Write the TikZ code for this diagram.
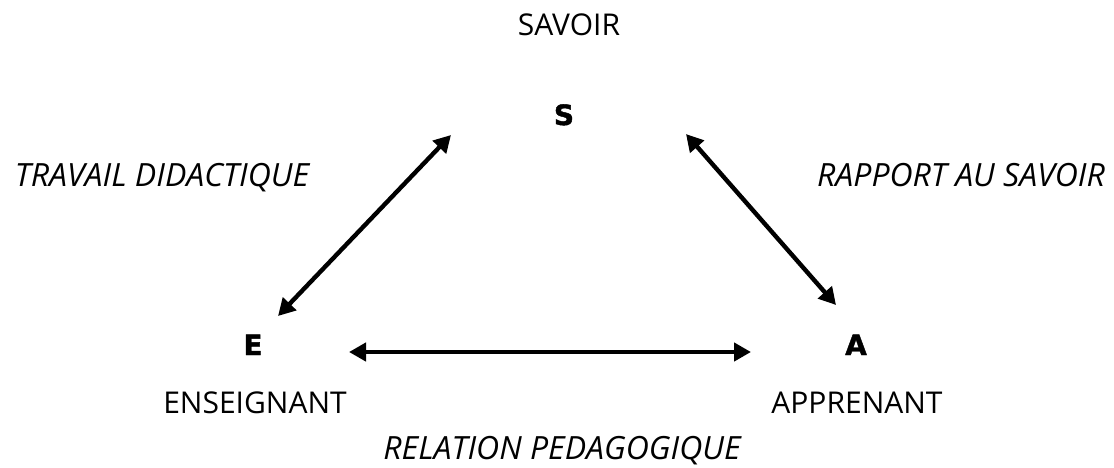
\documentclass[tikz,border=0pt]{standalone}
\usepackage{fontspec}
\setmainfont{Open Sans}
\newfontfamily\polefont[BoldFeatures={FakeBold=1.5}]{DejaVu Sans}
\usetikzlibrary{arrows.meta}

\begin{document}
\begin{tikzpicture}[x=0.5pt,y=-0.5pt,
  pole/.style={anchor=base,font=\polefont\bfseries\fontsize{14}{16}\selectfont},
  role/.style={anchor=base,font=\fontsize{15}{17}\selectfont},
  link/.style={anchor=base,font=\itshape\fontsize{16}{18}\selectfont},
  rel/.style={{Triangle[length=8.5pt,width=9pt]}-{Triangle[length=8.5pt,width=9pt]}, line width=2.2pt}]
  \useasboundingbox (0,0) rectangle (1114,467);
  % the three poles and their names
  \node[role] (savoir) at (569,35) {SAVOIR};
  \node[pole] (s) at (564,125) {S};
  \node[pole] (e) at (253,355) {E};
  \node[pole] (a) at (856,355) {A};
  \node[role] (enseignant) at (255,413) {ENSEIGNANT};
  \node[role] (apprenant) at (857,413) {APPRENANT};
  % labels of the three relations
  \node[link] (travail) at (162,186) {TRAVAIL DIDACTIQUE};
  \node[link] (rapport) at (961,186) {RAPPORT AU SAVOIR};
  \node[link] (relation) at (562,459) {RELATION PEDAGOGIQUE};
  % arrow ends
  \coordinate (es-e) at (278,316);
  \coordinate (es-s) at (451,135);
  \coordinate (sa-s) at (686,134);
  \coordinate (sa-a) at (836,305);
  \coordinate (ea-e) at (349,352);
  \coordinate (ea-a) at (751,352);
  \draw[rel] (es-e) -- (es-s);
  \draw[rel] (sa-s) -- (sa-a);
  \draw[rel] (ea-e) -- (ea-a);
\end{tikzpicture}
\end{document}
